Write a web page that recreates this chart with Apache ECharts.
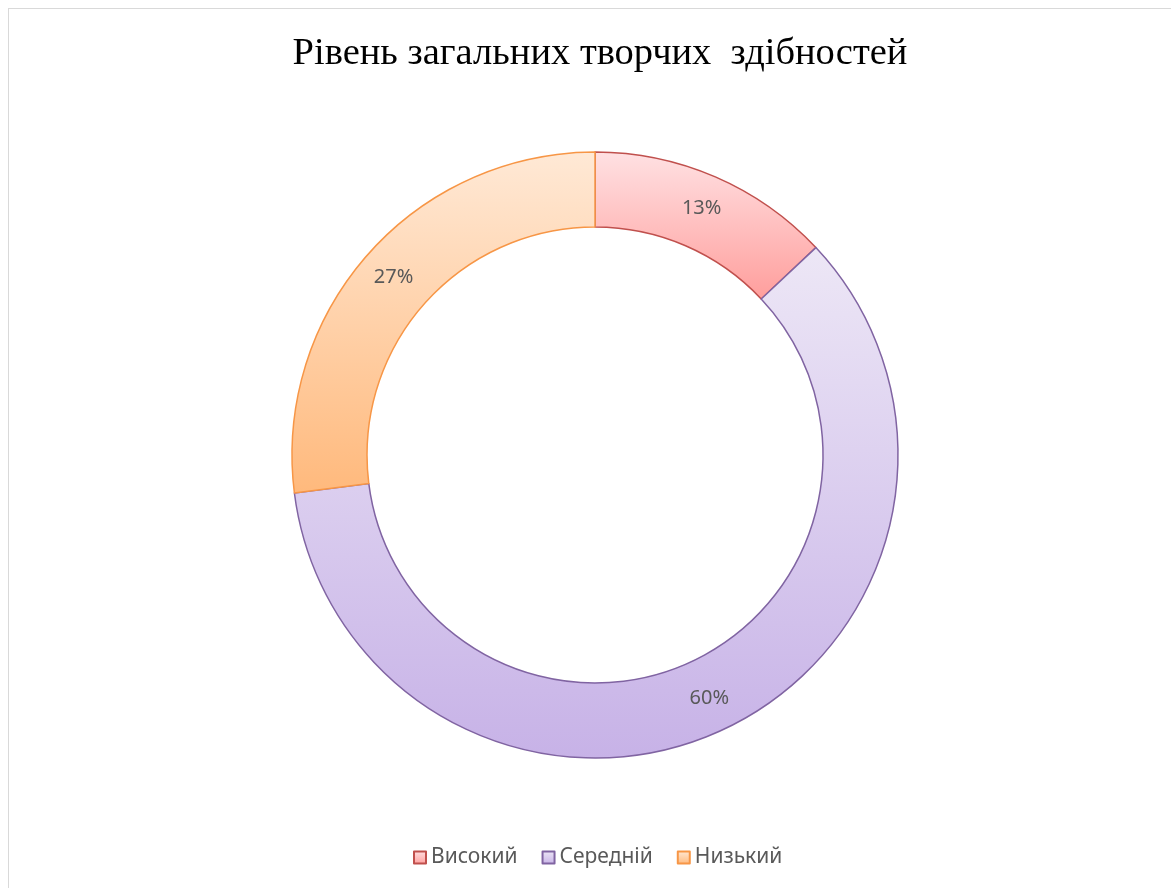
<!DOCTYPE html>
<html><head><meta charset="utf-8">
<script src="https://cdn.jsdelivr.net/npm/echarts@6/dist/echarts.min.js"></script>
<style>
html,body{margin:0;padding:0;background:#fff;}
#frame{position:absolute;left:8px;top:8px;width:1200px;height:900px;border-left:1.5px solid #d9d9d9;border-top:1.5px solid #d9d9d9;}
#c{position:absolute;left:0;top:0;width:1171px;height:888px;}
</style></head>
<body>
<div id="frame"></div>
<div id="c"></div>
<script>
const title = 'Рівень загальних творчих  здібностей';
const categories = ['Високий', 'Середній', 'Низький'];
const values = [13, 60, 27];
const topColors = ['#FFE1E3', '#EDE7F6', '#FFE9D6'];
const bottomColors = ['#FF9E9C', '#C7B2E7', '#FFB97C'];
const borderColors = ['#C0504D', '#8064A2', '#F79646'];

const chart = echarts.init(document.getElementById('c'));
const data = categories.map((n, i) => ({
  name: n,
  value: values[i],
  itemStyle: {
    color: new echarts.graphic.LinearGradient(0, 0, 0, 1, [
      {offset: 0, color: topColors[i]}, {offset: 1, color: bottomColors[i]}
    ]),
    borderColor: borderColors[i],
    borderWidth: 1.5
  }
}));
chart.setOption({
  animation: false,
  title: {
    text: title, left: 595, textAlign: 'center', top: 29,
    textStyle: {fontFamily: 'Liberation Serif', fontSize: 38.5, fontWeight: 'normal', color: '#000'}
  },
  legend: {
    bottom: 15, left: 408, itemWidth: 12, itemHeight: 12, itemGap: 24,
    icon: 'rect',
    textStyle: {fontFamily: 'Noto Sans', fontSize: 21, color: '#595959'},
    data: categories
  },
  series: [{
    type: 'pie',
    center: [595, 455],
    radius: [228, 303],
    startAngle: 90,
    clockwise: true,
    avoidLabelOverlap: false,
    label: {
      show: true, position: 'inside',
      formatter: p => p.value + '%',
      fontFamily: 'Noto Sans', fontSize: 20, color: '#595959'
    },
    labelLine: {show: false},
    emphasis: {disabled: true},
    data: data
  }]
});
</script>
</body></html>
